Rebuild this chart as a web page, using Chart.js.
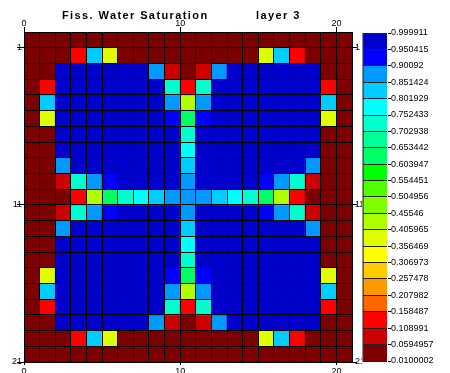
<!DOCTYPE html>
<html>
<head>
<meta charset="utf-8">
<script src="https://cdn.jsdelivr.net/npm/chart.js@4.4.0/dist/chart.umd.min.js"></script>
<style>
  html, body { margin: 0; padding: 0; background: #fff; }
  #wrap { position: relative; width: 450px; height: 373px; overflow: hidden; }
  #mapa { position: absolute; left: 0; top: 0; }
  #escala { position: absolute; left: 362px; top: 0; }
</style>
</head>
<body>
<div id="wrap">
  <canvas id="mapa" width="362" height="373"></canvas>
  <canvas id="escala" width="88" height="373"></canvas>
</div>
<script>
// Saturacion de agua en fisuras, capa 3 (filas de arriba hacia abajo, 21 x 21 celdas)
const titulo = 'Fiss. Water Saturation';
const capa = 'layer 3';

const filas = [
  [.03, .03, .03, .03, .03, .03, .03, .03, .03, .03, .03, .03, .03, .03, .03, .03, .03, .03, .03, .03, .03],
  [.03, .03, .03, .13, .83, .38, .03, .03, .03, .03, .03, .03, .03, .03, .03, .38, .83, .13, .03, .03, .03],
  [.03, .03, .98, .98, .98, .98, .98, .98, .88, .08, .03, .08, .88, .98, .98, .98, .98, .98, .98, .03, .03],
  [.03, .13, .98, .98, .98, .98, .98, .98, .98, .73, .13, .73, .98, .98, .98, .98, .98, .98, .98, .13, .03],
  [.03, .83, .98, .98, .98, .98, .98, .98, .98, .88, .43, .88, .98, .98, .98, .98, .98, .98, .98, .83, .03],
  [.03, .38, .98, .98, .98, .98, .98, .98, .98, .93, .63, .93, .98, .98, .98, .98, .98, .98, .98, .38, .03],
  [.03, .03, .98, .98, .98, .98, .98, .98, .98, .98, .73, .98, .98, .98, .98, .98, .98, .98, .98, .03, .03],
  [.03, .03, .98, .98, .98, .98, .98, .98, .98, .98, .78, .98, .98, .98, .98, .98, .98, .98, .98, .03, .03],
  [.03, .03, .88, .98, .98, .98, .98, .98, .98, .98, .83, .98, .98, .98, .98, .98, .98, .98, .88, .03, .03],
  [.03, .03, .08, .73, .88, .93, .98, .98, .98, .98, .88, .98, .98, .98, .98, .93, .88, .73, .08, .03, .03],
  [.03, .03, .03, .13, .43, .63, .73, .78, .83, .88, .88, .88, .83, .78, .73, .63, .43, .13, .03, .03, .03],
  [.03, .03, .08, .73, .88, .93, .98, .98, .98, .98, .88, .98, .98, .98, .98, .93, .88, .73, .08, .03, .03],
  [.03, .03, .88, .98, .98, .98, .98, .98, .98, .98, .83, .98, .98, .98, .98, .98, .98, .98, .88, .03, .03],
  [.03, .03, .98, .98, .98, .98, .98, .98, .98, .98, .78, .98, .98, .98, .98, .98, .98, .98, .98, .03, .03],
  [.03, .03, .98, .98, .98, .98, .98, .98, .98, .98, .73, .98, .98, .98, .98, .98, .98, .98, .98, .03, .03],
  [.03, .38, .98, .98, .98, .98, .98, .98, .98, .93, .63, .93, .98, .98, .98, .98, .98, .98, .98, .38, .03],
  [.03, .83, .98, .98, .98, .98, .98, .98, .98, .88, .43, .88, .98, .98, .98, .98, .98, .98, .98, .83, .03],
  [.03, .13, .98, .98, .98, .98, .98, .98, .98, .73, .13, .73, .98, .98, .98, .98, .98, .98, .98, .13, .03],
  [.03, .03, .98, .98, .98, .98, .98, .98, .88, .08, .03, .08, .88, .98, .98, .98, .98, .98, .98, .03, .03],
  [.03, .03, .03, .13, .83, .38, .03, .03, .03, .03, .03, .03, .03, .03, .03, .38, .83, .13, .03, .03, .03],
  [.03, .03, .03, .03, .03, .03, .03, .03, .03, .03, .03, .03, .03, .03, .03, .03, .03, .03, .03, .03, .03]
];

// etiquetas de los ejes
const marcasX = [0, 10, 20];
const marcasY = [1, 11, 21];

// limites de la escala de colores
const niveles = [0.0100002, 0.0594957, 0.108991, 0.158487, 0.207982, 0.257478, 0.306973,
  0.356469, 0.405965, 0.45546, 0.504956, 0.554451, 0.603947, 0.653442, 0.702938,
  0.752433, 0.801929, 0.851424, 0.90092, 0.950415, 0.999911];
const etiquetasNivel = ['0.0100002', '0.0594957', '0.108991', '0.158487', '0.207982', '0.257478',
  '0.306973', '0.356469', '0.405965', '0.45546', '0.504956', '0.554451', '0.603947', '0.653442',
  '0.702938', '0.752433', '0.801929', '0.851424', '0.90092', '0.950415', '0.999911'];
const colores = ['#7c0000', '#cc0000', '#ff0000', '#ff6600', '#ff9900', '#ffcc00', '#ffff00',
  '#ddff00', '#b0ff00', '#80ff00', '#4dff00', '#00ff00', '#00ff66', '#00ff99', '#00ffcc',
  '#00ffff', '#00ccff', '#0099ff', '#0000ff', '#0000cc'];

Chart.defaults.font.family = '"Liberation Sans", Arial, sans-serif';
Chart.defaults.color = '#000';

function colorDe(v) {
  for (let i = 0; i < colores.length; i++) {
    if (v < niveles[i + 1]) return colores[i];
  }
  return colores[colores.length - 1];
}

const lineas = Array.from({ length: 22 }, (_, i) => i);

const rotulo = {
  id: 'rotulo',
  afterDraw(chart) {
    const ctx = chart.ctx;
    const area = chart.chartArea;
    ctx.save();
    ctx.font = 'bold 11px "Liberation Sans", Arial, sans-serif';
    ctx.letterSpacing = '1.4px';
    ctx.fillStyle = '#000';
    ctx.textBaseline = 'alphabetic';
    ctx.fillText(titulo, area.left + 38, 19);
    ctx.fillText(capa, area.left + 232, 19);
    ctx.restore();
  }
};

const celdas = filas.map((fila, j) => ({
  data: fila.map((v, i) => ({ x: i + 0.5, y: [j, j + 1] })),
  backgroundColor: fila.map(colorDe),
  borderWidth: 0,
  grouped: false,
  barPercentage: 1,
  categoryPercentage: 1
}));

function ejeX(pos, conMalla) {
  return {
    type: 'linear', position: pos, min: 0, max: 21, offset: false,
    afterBuildTicks: s => { s.ticks = (conMalla ? lineas : marcasX).map(v => ({ value: v })); },
    ticks: {
      autoSkip: false, maxRotation: 0, padding: pos === 'top' ? -2 : 1,
      font: { size: 9 },
      callback: v => marcasX.includes(v) ? String(v) : ''
    },
    grid: {
      offset: false, z: 1, color: '#000', lineWidth: 1,
      drawOnChartArea: conMalla,
      tickLength: pos === 'top' ? 5 : 3,
      tickColor: c => marcasX.includes(c.tick.value) ? '#000' : 'rgba(0,0,0,0)'
    },
    border: { display: false },
    afterFit: s => { s.height = pos === 'top' ? 32 : 11; }
  };
}

function ejeY(pos, conMalla) {
  return {
    type: 'linear', position: pos, min: 0, max: 21, reverse: true,
    afterBuildTicks: s => { s.ticks = (conMalla ? lineas : marcasY).map(v => ({ value: v })); },
    ticks: {
      autoSkip: false, padding: pos === 'left' ? -5 : -2,
      font: { size: 9 },
      callback: v => marcasY.includes(v) ? String(v) : ''
    },
    grid: {
      z: 1, color: '#000', lineWidth: 1,
      drawOnChartArea: conMalla,
      tickLength: pos === 'left' ? 7 : 5,
      tickColor: c => marcasY.includes(c.tick.value) ? '#000' : 'rgba(0,0,0,0)'
    },
    border: { display: false },
    afterFit: s => { s.width = pos === 'left' ? 24 : 10; }
  };
}

new Chart(document.getElementById('mapa'), {
  type: 'bar',
  data: { datasets: celdas },
  options: {
    responsive: false,
    animation: false,
    devicePixelRatio: 1,
    layout: { padding: 0 },
    plugins: { legend: { display: false }, tooltip: { enabled: false } },
    scales: {
      x: ejeX('bottom', true),
      x2: ejeX('top', false),
      y: ejeY('left', true),
      y2: ejeY('right', false)
    }
  },
  plugins: [rotulo]
});

// barra de colores con los limites de cada clase
new Chart(document.getElementById('escala'), {
  type: 'bar',
  data: {
    labels: [''],
    datasets: colores.map((c, i) => ({
      data: [[niveles[i], niveles[i + 1]]],
      backgroundColor: c,
      borderWidth: { left: 1, right: 0, top: 0, bottom: 0 },
      borderColor: '#333',
      borderSkipped: false,
      grouped: false,
      barPercentage: 1,
      categoryPercentage: 1
    }))
  },
  options: {
    responsive: false,
    animation: false,
    devicePixelRatio: 1,
    layout: { padding: { left: 1, top: 33, bottom: 12, right: 0 } },
    plugins: { legend: { display: false }, tooltip: { enabled: false } },
    scales: {
      x: { display: false },
      y: {
        position: 'right', min: niveles[0], max: niveles[niveles.length - 1],
        afterBuildTicks: s => { s.ticks = niveles.map(v => ({ value: v })); },
        ticks: {
          autoSkip: false, padding: 0, font: { size: 9 },
          callback: (v, i) => etiquetasNivel[i]
        },
        grid: { z: 1, color: '#222', tickLength: 4, tickColor: '#000' },
        border: { color: '#222' },
        afterFit: s => { s.width = 63; }
      }
    }
  }
});
</script>
</body>
</html>
